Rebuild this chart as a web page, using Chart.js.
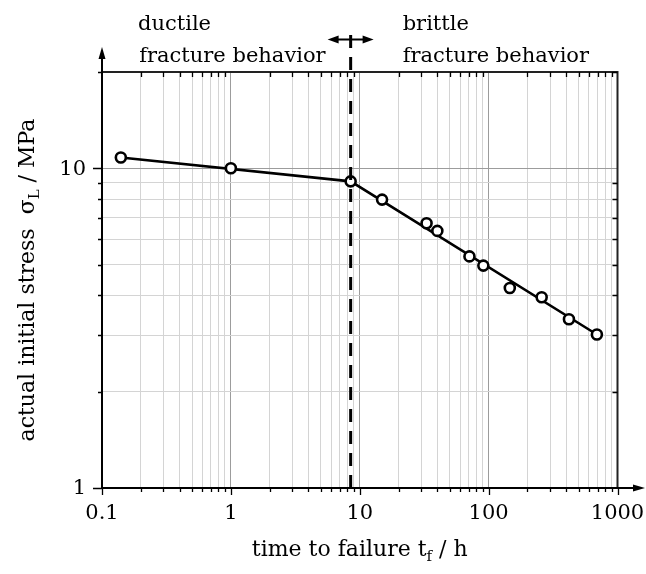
<!DOCTYPE html>
<html><head><meta charset="utf-8">
<script src="https://cdn.jsdelivr.net/npm/chart.js@4.4.0/dist/chart.umd.min.js"></script>
<style>html,body{margin:0;padding:0;background:#fff;}</style>
</head><body>
<canvas id="c" width="646" height="574"></canvas>
<script>
// ---- data ----
const timeToFailure = [0.14, 1.0, 8.5, 14.9, 33, 40, 71, 91, 146, 258, 420, 692];
const stress        = [10.8, 10.0, 9.1, 7.98, 6.73, 6.37, 5.30, 4.96, 4.22, 3.95, 3.37, 3.02];
const fitTime   = [0.14, 8.5, 692];
const fitStress = [10.8, 9.1, 3.02];
const transitionTime = 8.5;
const xMajorTicks = [0.1, 1, 10, 100, 1000];
const xTickLabels = ['0.1', '1', '10', '100', '1000'];
const yMajorTicks = [1, 10];
const yTickLabels = ['1', '10'];
const yMax = 20;

const FONT = '"DejaVu Serif", serif';

function logTicks(majors, min, max) {
  const out = [];
  for (const m of majors) {
    for (let k = 1; k <= 9; k++) {
      const v = +(m * k).toPrecision(6);
      if (v >= min - 1e-9 && v <= max + 1e-9) out.push({ value: v, major: k === 1 });
    }
  }
  return out;
}
const xTicks = logTicks(xMajorTicks, 0.1, 1000);
const yTicks = logTicks(yMajorTicks, 1, yMax);

const gridColor = (c) => (c.tick && c.tick.major) ? '#9c9c9c' : '#d4d4d4';

function drawRich(ctx, parts, x, y, align) {
  let total = 0;
  for (const p of parts) { ctx.font = p.size + 'px ' + FONT; p.w = ctx.measureText(p.t).width; total += p.w; }
  let cx = align === 'center' ? x - total / 2 : x;
  ctx.textAlign = 'left'; ctx.textBaseline = 'alphabetic';
  for (const p of parts) { ctx.font = p.size + 'px ' + FONT; ctx.fillText(p.t, cx, y + (p.dy || 0)); cx += p.w; }
}

const deco = {
  id: 'deco',
  afterDraw(chart) {
    const ctx = chart.ctx, a = chart.chartArea;
    const xs = chart.scales.x, ys = chart.scales.y;
    ctx.save();
    ctx.fillStyle = '#000';
    // frame top/right
    ctx.lineWidth = 2; ctx.strokeStyle = '#222';
    ctx.beginPath();
    ctx.moveTo(a.left, a.top); ctx.lineTo(a.right, a.top); ctx.lineTo(a.right, a.bottom);
    ctx.stroke();
    // axes with arrows
    ctx.strokeStyle = '#000';
    ctx.beginPath();
    ctx.moveTo(a.left, a.bottom); ctx.lineTo(a.left, 54);
    ctx.moveTo(a.left, a.bottom); ctx.lineTo(636, a.bottom);
    ctx.stroke();
    ctx.beginPath();
    ctx.moveTo(a.left, 47); ctx.lineTo(a.left - 3.5, 59); ctx.lineTo(a.left + 3.5, 59); ctx.closePath(); ctx.fill();
    ctx.beginPath();
    ctx.moveTo(645, a.bottom); ctx.lineTo(633, a.bottom - 3.5); ctx.lineTo(633, a.bottom + 3.5); ctx.closePath(); ctx.fill();
    // ticks
    ctx.lineWidth = 1.3;
    ctx.beginPath();
    for (const t of xTicks) {
      const px = Math.round(xs.getPixelForValue(t.value)) + 0.5;
      ctx.moveTo(px, a.bottom); ctx.lineTo(px, a.bottom + (t.major ? 7 : 4));
      if (!t.major) { ctx.moveTo(px, a.top); ctx.lineTo(px, a.top + 5); }
    }
    for (const t of yTicks) {
      const py = Math.round(ys.getPixelForValue(t.value)) + 0.5;
      ctx.moveTo(a.left, py); ctx.lineTo(a.left - (t.major ? 9 : 4), py);
      if (!t.major) { ctx.moveTo(a.right, py); ctx.lineTo(a.right - 5, py); }
    }
    ctx.stroke();
    // tick labels
    ctx.fillStyle = '#000';
    ctx.font = '21px ' + FONT;
    ctx.textAlign = 'center'; ctx.textBaseline = 'middle';
    xMajorTicks.forEach((v, i) => ctx.fillText(xTickLabels[i], xs.getPixelForValue(v), a.bottom + 26));
    ctx.textAlign = 'right';
    yMajorTicks.forEach((v, i) => ctx.fillText(yTickLabels[i], 86, ys.getPixelForValue(v) + 1));
    // transition dashed line
    const dx = xs.getPixelForValue(transitionTime);
    ctx.lineWidth = 3;
    ctx.setLineDash([13, 9]);
    ctx.beginPath(); ctx.moveTo(dx, a.bottom); ctx.lineTo(dx, 26); ctx.stroke();
    ctx.setLineDash([]);
    // double arrow
    const ay = 39.5;
    ctx.lineWidth = 2;
    ctx.beginPath(); ctx.moveTo(dx - 16, ay); ctx.lineTo(dx + 16, ay); ctx.stroke();
    ctx.beginPath(); ctx.moveTo(dx - 23, ay); ctx.lineTo(dx - 12, ay - 4); ctx.lineTo(dx - 12, ay + 4); ctx.closePath(); ctx.fill();
    ctx.beginPath(); ctx.moveTo(dx + 23, ay); ctx.lineTo(dx + 12, ay - 4); ctx.lineTo(dx + 12, ay + 4); ctx.closePath(); ctx.fill();
    // region labels
    ctx.font = '21px ' + FONT; ctx.textBaseline = 'alphabetic'; ctx.textAlign = 'left';
    ctx.fillText('ductile', 138, 30);
    ctx.textAlign = 'right';
    ctx.fillText('fracture behavior', dx - 25, 62);
    ctx.textAlign = 'left';
    ctx.fillText('brittle', dx + 52, 30);
    ctx.fillText('fracture behavior', dx + 52, 62);
    // axis titles
    drawRich(ctx, [{t: 'time to failure t', size: 22}, {t: 'f', size: 15, dy: 5}, {t: ' / h', size: 22}],
      (a.left + a.right) / 2, 556, 'center');
    ctx.save();
    ctx.translate(34, (a.top + a.bottom) / 2);
    ctx.rotate(-Math.PI / 2);
    drawRich(ctx, [{t: 'actual initial stress  σ', size: 22}, {t: 'L', size: 15, dy: 5}, {t: ' / MPa', size: 22}], 0, 0, 'center');
    ctx.restore();
    ctx.restore();
  }
};

const points = timeToFailure.map((x, i) => ({ x, y: stress[i] }));
const fit = fitTime.map((x, i) => ({ x, y: fitStress[i] }));

new Chart(document.getElementById('c'), {
  type: 'scatter',
  data: {
    datasets: [
      { label: 'measured', data: points, showLine: false, order: 0,
        pointRadius: 5, pointHoverRadius: 5, pointBorderWidth: 2.6,
        pointBackgroundColor: '#fff', pointBorderColor: '#000' },
      { label: 'fit', data: fit, showLine: true, order: 1, fill: false,
        borderColor: '#000', borderWidth: 2.6, pointRadius: 0, tension: 0 }
    ]
  },
  options: {
    responsive: false, animation: false, devicePixelRatio: 1,
    layout: { padding: { top: 72, right: 28.5, left: 0, bottom: 0 } },
    plugins: { legend: { display: false }, tooltip: { enabled: false } },
    scales: {
      x: {
        type: 'logarithmic', min: 0.1, max: 1000,
        afterBuildTicks: (s) => { s.ticks = xTicks.map(t => ({ value: t.value, major: t.major })); },
        afterFit: (s) => { s.height = 86; s.paddingLeft = 0; s.paddingRight = 0; },
        ticks: { display: false },
        grid: { color: gridColor, lineWidth: 1, drawTicks: false },
        border: { display: false }
      },
      y: {
        type: 'logarithmic', min: 1, max: yMax,
        afterBuildTicks: (s) => { s.ticks = yTicks.map(t => ({ value: t.value, major: t.major })); },
        afterFit: (s) => { s.width = 102; s.paddingTop = 0; s.paddingBottom = 0; },
        ticks: { display: false },
        grid: { color: gridColor, lineWidth: 1, drawTicks: false },
        border: { display: false }
      }
    }
  },
  plugins: [deco]
});
</script>
</body></html>
